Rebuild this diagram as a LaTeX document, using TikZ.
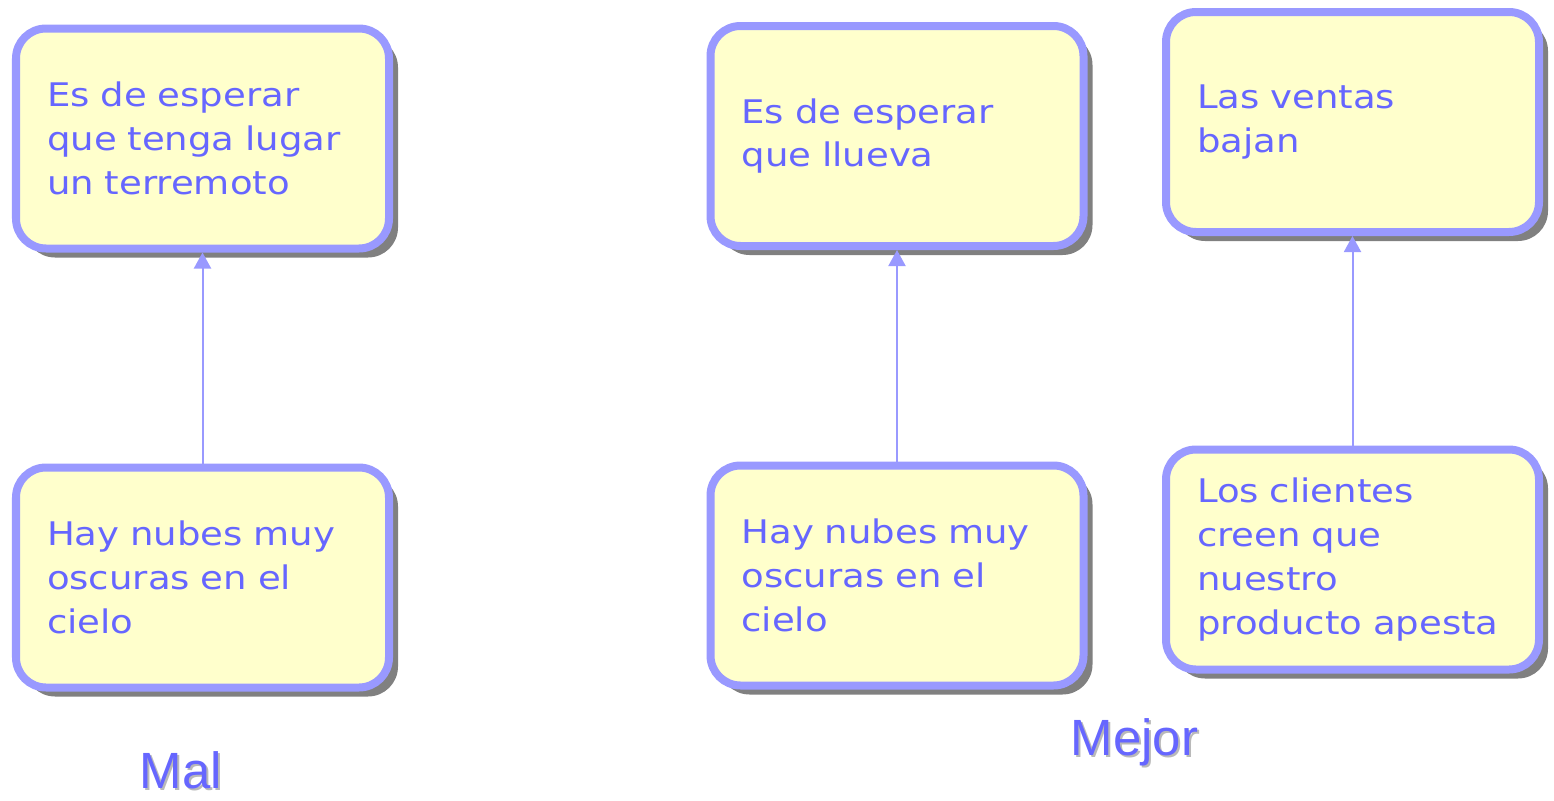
\documentclass[tikz,border=0pt]{standalone}
\usepackage{fontspec}
\newfontfamily\boxfont[FakeStretch=1.14]{DejaVu Sans}
\newfontfamily\labelfont{Liberation Sans}
\usetikzlibrary{arrows.meta,shadows}
\definecolor{boxline}{HTML}{9999FF}
\definecolor{boxfill}{HTML}{FFFFCC}
\definecolor{boxtext}{HTML}{6666FF}
\definecolor{boxshadow}{HTML}{808080}
\newcommand{\shadowed}[1]{\rlap{\hspace{0.04cm}\raisebox{-0.04cm}{\textcolor{gray!55}{#1}}}#1}

\begin{document}
\begin{tikzpicture}[>={Triangle[width=0.34cm,length=0.32cm]},
    claim/.style={rectangle,
          rounded corners = 0.6cm,
          draw = boxline,
          line width = 0.16cm,
          fill = boxfill,
          drop shadow = {shadow xshift=0.18cm, shadow yshift=-0.18cm,
                         fill=boxshadow, opacity=1},
          minimum width = 7.46cm,
          minimum height = 4.4cm,
          text width = 6.22cm,
          inner xsep = 0.62cm,
          align = left,
          text = boxtext,
          font = \boxfont\fontsize{18.5}{25}\selectfont},
    verdict/.style={anchor = base,
          inner sep = 0pt,
          text = boxtext,
          font = \labelfont\fontsize{29}{34}\selectfont},
    link/.style={->, boxline, line width = 0.04cm}]

    \useasboundingbox (0,0) rectangle (31.08,-16.02);

    % Mal
    \node[claim] (quake) at (4.05,-2.77)
        {Es de esperar\\ que tenga lugar\\ un terremoto};
    \node[claim] (clouds) at (4.05,-11.55)
        {Hay nubes muy\\ oscuras en el\\ cielo};
    \node[verdict] (mal) at (3.62,-15.76) {\shadowed{Mal}};

    % Mejor
    \node[claim] (rain) at (17.94,-2.72)
        {Es de esperar\\ que llueva};
    \node[claim] (clouds2) at (17.94,-11.51)
        {Hay nubes muy\\ oscuras en el\\ cielo};

    \node[claim] (sales) at (27.05,-2.44)
        {Las ventas\\ bajan};
    \node[claim] (clients) at (27.05,-11.19)
        {Los clientes\\ creen que\\ nuestro\\ producto apesta};

    \node[verdict] (mejor) at (22.69,-15.10) {\shadowed{Mejor}};

    \path
    (clouds.north) edge [link] (quake.south)
    (clouds2.north) edge [link] (rain.south)
    (clients.north) edge [link] (sales.south) ;

\end{tikzpicture}
\end{document}
